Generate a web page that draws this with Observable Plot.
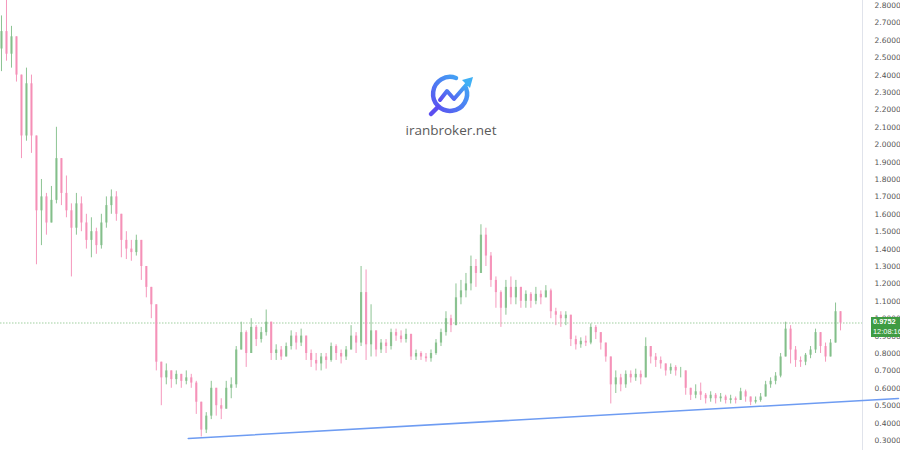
<!DOCTYPE html>
<html><head><meta charset="utf-8">
<script src="https://cdn.jsdelivr.net/npm/d3@7"></script>
<script src="https://cdn.jsdelivr.net/npm/@observablehq/plot@0.6"></script>
<style>
body{margin:0;background:#fff;font-family:"Roboto","Open Sans",sans-serif}
#wrap{position:relative;width:900px;height:450px;overflow:hidden}
#wm{position:absolute;left:0;top:0;width:900px;height:450px;pointer-events:none}
#tag{position:absolute;left:871px;width:29px;height:20px;background:#3f9b43;color:#fff;font-size:7.4px;line-height:9.5px;padding:0.5px 0 0 2px;box-sizing:border-box;font-family:"Liberation Sans",sans-serif;white-space:nowrap;overflow:hidden}
</style></head><body><div id="wrap"></div>
<script>
const firstOpen = 2.55;
const closes = [
2.65,2.52,2.62,2.40,2.05,2.35,2.05,1.62,1.70,1.55,
1.68,1.92,1.72,1.62,1.52,1.66,1.55,1.45,1.50,1.42,
1.55,1.65,1.70,1.60,1.45,1.40,1.38,1.45,1.30,1.18,
1.08,0.75,0.66,0.70,0.65,0.68,0.64,0.66,0.63,0.52,
0.36,0.44,0.60,0.50,0.48,0.60,0.62,0.82,0.92,0.80,
0.95,0.88,0.92,0.98,0.80,0.82,0.78,0.84,0.90,0.86,
0.90,0.80,0.76,0.74,0.78,0.76,0.84,0.80,0.78,0.82,
0.90,0.86,1.15,0.85,0.93,0.82,0.86,0.84,0.92,0.90,
0.88,0.91,0.78,0.80,0.78,0.77,0.80,0.86,0.92,1.00,
0.96,1.12,1.16,1.20,1.30,1.26,1.48,1.36,1.22,1.15,
1.06,1.18,1.12,1.18,1.10,1.14,1.10,1.14,1.12,1.16,
1.04,1.02,1.00,1.02,0.88,0.85,0.87,0.86,0.95,0.92,
0.86,0.78,0.62,0.66,0.62,0.68,0.66,0.68,0.66,0.84,
0.78,0.76,0.74,0.70,0.72,0.70,0.70,0.60,0.56,0.58,
0.56,0.54,0.56,0.54,0.55,0.53,0.54,0.53,0.58,0.55,
0.52,0.53,0.55,0.62,0.64,0.67,0.78,0.94,0.82,0.76,
0.75,0.79,0.82,0.92,0.84,0.78,0.86,1.04,0.9752];
const highs = [
2.74,2.83,2.68,2.62,2.40,2.44,2.40,2.05,1.80,1.72,
1.76,2.10,1.92,1.82,1.66,1.72,1.70,1.60,1.58,1.52,
1.60,1.70,1.74,1.73,1.60,1.50,1.45,1.48,1.45,1.30,
1.18,1.08,0.75,0.74,0.70,0.70,0.68,0.70,0.68,0.64,
0.52,0.46,0.64,0.60,0.54,0.64,0.66,0.84,0.98,0.93,
1.00,0.96,0.95,1.05,0.98,0.85,0.84,0.86,0.93,0.92,
0.94,0.90,0.82,0.80,0.80,0.80,0.86,0.85,0.82,0.84,
0.96,0.92,1.30,1.28,1.08,0.92,0.88,0.88,0.94,0.94,
0.93,0.94,0.91,0.82,0.81,0.80,0.82,0.88,0.94,1.04,
1.02,1.20,1.22,1.26,1.36,1.34,1.54,1.52,1.38,1.24,
1.16,1.22,1.24,1.22,1.18,1.16,1.15,1.18,1.16,1.19,
1.17,1.06,1.04,1.04,1.02,0.90,0.89,0.90,0.97,0.96,
0.92,0.86,0.78,0.70,0.68,0.70,0.70,0.71,0.70,0.89,
0.84,0.80,0.78,0.74,0.74,0.73,0.72,0.70,0.60,0.62,
0.63,0.57,0.58,0.57,0.57,0.56,0.56,0.55,0.60,0.59,
0.55,0.55,0.57,0.64,0.66,0.69,0.80,0.98,0.96,0.84,
0.78,0.80,0.84,0.94,0.92,0.86,0.88,1.09,1.04];
const lows = [
2.42,2.48,2.44,2.36,1.92,2.02,1.95,1.31,1.42,1.48,
1.55,1.66,1.65,1.58,1.24,1.48,1.50,1.40,1.35,1.37,
1.40,1.52,1.60,1.56,1.35,1.34,1.33,1.36,1.22,1.12,
1.00,0.70,0.50,0.62,0.60,0.62,0.60,0.62,0.60,0.45,
0.32,0.34,0.42,0.44,0.42,0.50,0.54,0.60,0.82,0.72,
0.80,0.84,0.86,0.90,0.76,0.76,0.76,0.78,0.82,0.82,
0.84,0.76,0.72,0.70,0.70,0.71,0.75,0.76,0.74,0.76,
0.82,0.80,0.84,0.76,0.78,0.78,0.80,0.80,0.82,0.87,
0.86,0.86,0.76,0.76,0.76,0.75,0.75,0.79,0.84,0.90,
0.92,0.96,1.08,1.12,1.16,1.18,1.26,1.30,1.18,1.06,
0.95,1.02,1.08,1.08,1.06,1.06,1.06,1.08,1.08,1.12,
1.00,0.96,0.95,0.96,0.84,0.82,0.83,0.84,0.85,0.88,
0.82,0.75,0.51,0.57,0.58,0.60,0.63,0.64,0.62,0.66,
0.74,0.72,0.71,0.67,0.68,0.67,0.66,0.56,0.53,0.54,
0.53,0.51,0.52,0.51,0.52,0.51,0.51,0.51,0.53,0.52,
0.50,0.51,0.52,0.55,0.60,0.62,0.66,0.78,0.74,0.72,
0.72,0.73,0.77,0.80,0.80,0.75,0.78,0.86,0.93];
const yTicks = [0.3,0.4,0.5,0.6,0.7,0.8,0.9,1.0,1.1,1.2,1.3,1.4,1.5,1.6,1.7,1.8,1.9,2.0,2.1,2.2,2.3,2.4,2.5,2.6,2.7,2.8];
const lastPrice = 0.9752;
const lastTime = "12:08:16";
const trendIdx = [37.4, 179.6];
const trendPrice = [0.3115, 0.5414];
const watermark = "iranbroker.net";

const candles = closes.map((c, i) => {
  const open = i === 0 ? firstOpen : closes[i - 1];
  return {i, open, close: c,
    high: Math.max(highs[i], open, c), low: Math.min(lows[i], open, c),
    up: c >= open};
});
const trend = trendIdx.map((x, k) => ({x, y: trendPrice[k]}));
const upC = "#80bd87", dnC = "#f48db5";
const xDom = [-0.2, 172.4];
const yDom = [0.2425, 2.8287];

const plot = Plot.plot({
  width: 900, height: 450,
  marginLeft: 0, marginRight: 38, marginTop: 0, marginBottom: 0,
  x: {domain: xDom, axis: null},
  y: {domain: yDom, axis: null},
  marks: [
    Plot.ruleX([xDom[1]], {stroke: "#e0e3eb"}),
    Plot.axisY(yTicks, {anchor: "right", tickSize: 0, tickPadding: 12,
      tickFormat: d3.format(".4f"), fontSize: 7.5, color: "#555", label: null,
      fontFamily: "DejaVu Sans"}),
    Plot.ruleY([lastPrice], {stroke: "#9fcf9f", strokeDasharray: "1.5,1.5", strokeWidth: 1}),
    Plot.ruleX(candles, {x: "i", y1: "low", y2: "high", stroke: d => d.up ? upC : dnC, strokeWidth: 1, strokeOpacity: 0.9}),
    Plot.ruleX(candles, {x: "i", y1: "open", y2: "close", stroke: d => d.up ? upC : dnC, strokeWidth: 2.2, strokeOpacity: 0.85}),
    Plot.line(trend, {x: "x", y: "y", stroke: "#6e9cf2", strokeWidth: 1.6})
  ]
});
const wrap = document.getElementById("wrap");
wrap.appendChild(plot);

const yS = plot.scale("y");
const tag = document.createElement("div");
tag.id = "tag";
tag.style.top = (yS.apply(lastPrice) - 6) + "px";
tag.innerHTML = "<b>" + lastPrice.toFixed(4) + "</b><br>" + lastTime;
wrap.appendChild(tag);

const wm = document.createElementNS("http://www.w3.org/2000/svg", "svg");
wm.setAttribute("id", "wm");
wm.setAttribute("width", 900); wm.setAttribute("height", 450);
wm.innerHTML = `
<defs><linearGradient id="g" x1="0" y1="1" x2="1" y2="0">
<stop offset="0" stop-color="#5b4ef0"/><stop offset="1" stop-color="#3fb0f5"/></linearGradient></defs>
<path d="M466 88 A17 17 0 1 1 456 78" fill="none" stroke="url(#g)" stroke-width="4.5" stroke-linecap="round"/>
<line x1="438" y1="107" x2="431" y2="114" stroke="#5b4ef0" stroke-width="4.5" stroke-linecap="round"/>
<polyline points="440,100 447,91 454,99 467,84" fill="none" stroke="url(#g)" stroke-width="4" stroke-linejoin="round" stroke-linecap="round"/>
<polygon points="473,77 462,80 470,88" fill="#3fb0f5"/>
<text x="451" y="135" text-anchor="middle" font-family="Open Sans, Roboto, sans-serif" font-size="13.5" fill="#5a5a5a">${watermark}</text>`;
wrap.appendChild(wm);
</script></body></html>
